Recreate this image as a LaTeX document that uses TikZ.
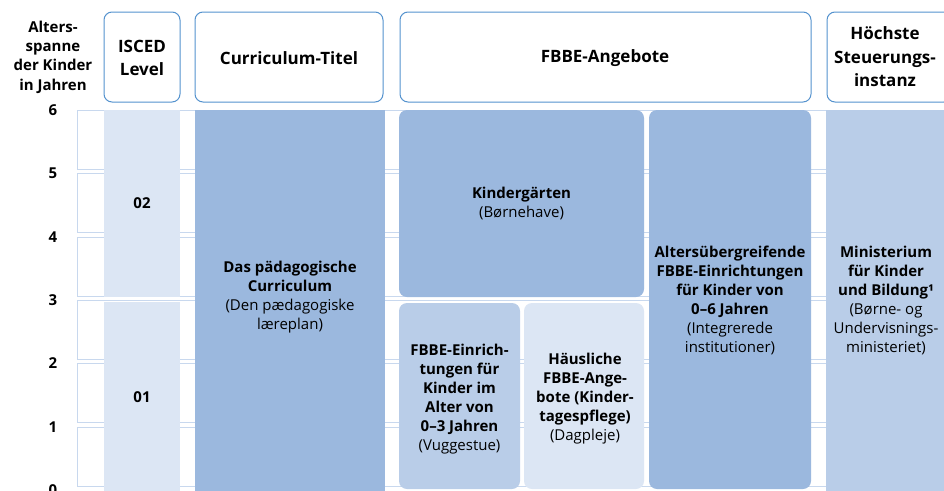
\documentclass[tikz,border=0pt]{standalone}
\usepackage{fontspec}
\setmainfont{Open Sans}
\definecolor{hdrblue}{RGB}{84,146,206}
\definecolor{rowline}{RGB}{200,216,238}
\definecolor{pale}{RGB}{220,230,244}
\definecolor{mid}{RGB}{155,184,222}
\definecolor{soft}{RGB}{185,205,232}
\newcommand{\hdrfont}{\fontsize{17}{23.5}\selectfont\bfseries}
\newcommand{\bodyfont}{\fontsize{15}{19}\selectfont}
\tikzset{
  hdrbox/.style={draw=hdrblue, line width=1pt, rounded corners=8pt, fill=white},
  rowbox/.style={draw=rowline, line width=1pt, fill=white},
  hdrtext/.style={align=center, font=\hdrfont, inner sep=0pt},
  bodytext/.style={align=center, font=\bodyfont, inner sep=0pt},
  ticktext/.style={font=\bodyfont\bfseries, inner sep=0pt},
}
\begin{document}
\begin{tikzpicture}[x=1pt,y=-1pt]
\useasboundingbox (0,0) rectangle (944,490);
% grid rows
\foreach \k in {0,...,5}{
  \draw[rowbox] (77,{110+63.333*\k+0.5}) rectangle (960,{110+63.333*(\k+1)-4});
}
% headers
\draw[hdrbox] (104,12) rectangle (180,102);
\draw[hdrbox] (195,12) rectangle (383,102);
\draw[hdrbox] (400,12) rectangle (811,102);
\draw[hdrbox] (827,12) rectangle (952,102);
\node[hdrtext] (hIsced) at (142,58) {ISCED\\Level};
\node[hdrtext] (hCurr) at (289,58) {Curriculum-Titel};
\node[hdrtext] (hFbbe) at (605,58) {FBBE-Angebote};
\node[hdrtext] (hSteuer) at (885,57) {Höchste\\Steuerungs-\\instanz};
\node[align=center, font=\fontsize{15}{19.3}\selectfont\bfseries, inner sep=0pt] (hAlter) at (53,57) {Alters-\\spanne\\der Kinder\\in Jahren};
% tick labels
\foreach \k/\n in {0/6,1/5,2/4,3/3,4/2,5/1,6/0}{
  \node[ticktext] (t\n) at (53,{110+63.333*\k}) {\n};
}
% ISCED column
\fill[pale] (104,110) rectangle (180,297);
\fill[pale] (104,302) rectangle (180,495);
\node[bodytext, font=\bodyfont\bfseries] (i02) at (142,203) {02};
\node[bodytext, font=\bodyfont\bfseries] (i01) at (142,397) {01};
% Curriculum column
\fill[mid] (195,110) rectangle (385,495);
\node[bodytext] (curr) at (290,297.5) {\textbf{Das pädagogische}\\\textbf{Curriculum}\\(Den pædagogiske\\læreplan)};
% FBBE boxes
\fill[mid, rounded corners=8pt] (399,110) rectangle (644,297);
\node[bodytext] (kiga) at (521.5,203) {\textbf{Kindergärten}\\(Børnehave)};
\fill[soft, rounded corners=8pt] (399,303) rectangle (520,489);
\node[bodytext] (krippe) at (459.5,399) {\textbf{FBBE-Einrich-}\\\textbf{tungen für}\\\textbf{Kinder im}\\\textbf{Alter von}\\\textbf{0–3 Jahren}\\(Vuggestue)};
\fill[pale, rounded corners=8pt] (524,303) rectangle (644,489);
\node[bodytext] (pflege) at (585,398.5) {\textbf{Häusliche}\\\textbf{FBBE-Ange-}\\\textbf{bote (Kinder-}\\\textbf{tagespflege)}\\(Dagpleje)};
\fill[mid, rounded corners=8pt] (649,110) rectangle (811,489);
\node[bodytext] (integ) at (730,300) {\textbf{Altersübergreifende}\\\textbf{FBBE-Einrichtungen}\\\textbf{für Kinder von}\\\textbf{0–6 Jahren}\\(Integrerede\\institutioner)};
% Ministerium column
\fill[soft] (826,110) rectangle (950,495);
\node[bodytext] (mini) at (886,300) {\textbf{Ministerium}\\\textbf{für Kinder}\\\textbf{und Bildung¹}\\(Børne- og\\Undervisnings-\\ministeriet)};
\end{tikzpicture}
\end{document}
